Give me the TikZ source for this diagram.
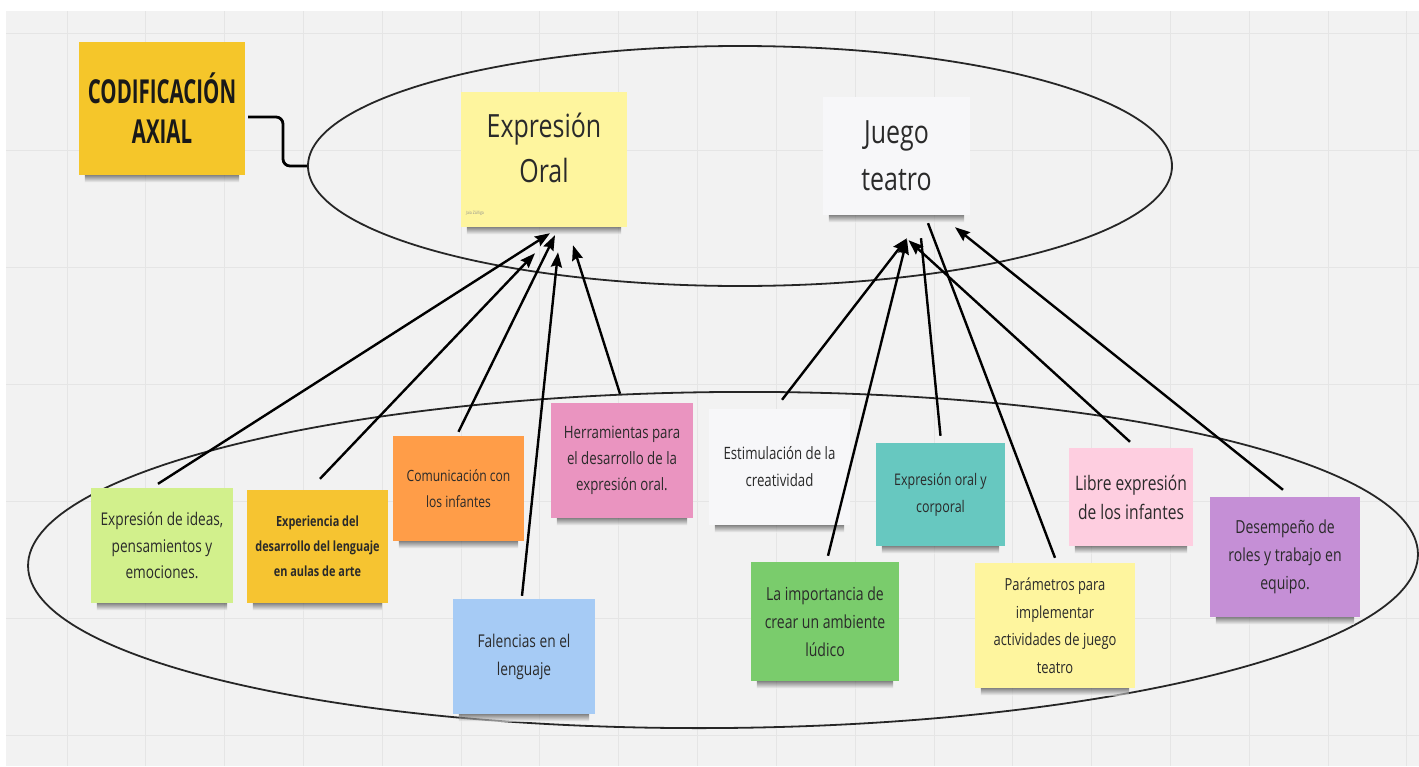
\documentclass[tikz,border=0pt]{standalone}
\usepackage{fontspec}
\setmainfont{Open Sans}[FakeStretch=0.78]
\newfontfamily\titlefont{Open Sans}[FakeStretch=0.62]
\usetikzlibrary{shapes.geometric,arrows.meta,calc}
\definecolor{bgc}{HTML}{F2F2F2}
\definecolor{gridc}{HTML}{E5E5E5}
\definecolor{cgold}{HTML}{F5C62A}
\definecolor{cpaley}{HTML}{FEF59E}
\definecolor{cwhite}{HTML}{F7F7F9}
\definecolor{clime}{HTML}{D2F08C}
\definecolor{cgold2}{HTML}{F6C431}
\definecolor{corange}{HTML}{FF9D48}
\definecolor{cpink}{HTML}{EA94C0}
\definecolor{cblue}{HTML}{A6CBF5}
\definecolor{cteal}{HTML}{67C8C0}
\definecolor{clpink}{HTML}{FECEE0}
\definecolor{cpurple}{HTML}{C58FD6}
\definecolor{cgreen}{HTML}{7ACC6C}
\definecolor{ctext}{HTML}{2A2A2A}
\begin{document}
\begin{tikzpicture}[x=1pt,y=-1pt,
  note/.style={rectangle, inner sep=0pt, align=center, text=ctext},
  fs/.style 2 args={font=\fontsize{#1}{#2}\selectfont},
  link/.style={line width=2.4pt, black},
  arr/.style={link, -{Stealth[length=15pt,width=11pt,inset=2pt]}},
  oval/.style={ellipse, draw=black!85, line width=1.8pt, inner sep=0pt}
]
\useasboundingbox (0,0) rectangle (1419,766);
\fill[white] (0,0) rectangle (1419,766);
\fill[bgc] (6,11) rectangle (1419,766);
\foreach \i in {0,...,17} \draw[gridc, line width=1pt] ({67+78.82*\i},11) -- ({67+78.82*\i},766);
\foreach \j in {0,...,6} \draw[gridc, line width=1pt] (6,{33+117*\j}) -- (1419,{33+117*\j});

% ovals
\node[oval, minimum width=864pt, minimum height=240pt] (up) at (740,166) {};
\node[oval, minimum width=1390pt, minimum height=336pt, rotate=0.5] (low) at (723,560) {};

% notes
\node[note, fill=cgold, minimum width=166pt, minimum height=133pt, text=black!90,
  font=\titlefont\bfseries\fontsize{33}{40}\selectfont] (title) at (162,108.5) {CODIFICACIÓN\\AXIAL};
\node[note, fill=cpaley, minimum width=166pt, minimum height=135pt] (eo) at (544,159.5) {};
\node[note, fs={32}{45}] (eot) at (544,148) {Expresión\\Oral};
\node[anchor=west, inner sep=0pt, text=black!45, font=\fontsize{4.5}{5}\selectfont] (auth) at (466,213) {Jaia Zúñiga};
\node[note, fill=cwhite, minimum width=147pt, minimum height=118pt, fs={32}{47}] (jt) at (896.5,156) {Juego\\teatro};

\node[note, fill=clime, minimum width=142pt, minimum height=115pt, fs={17.5}{26.5}] (n1) at (162,545.5) {Expresión de ideas,\\pensamientos y\\emociones.};
\node[note, fill=cgold2, minimum width=141pt, minimum height=113pt, font=\bfseries\fontsize{14}{25}\selectfont] (n2) at (317.5,546.5) {Experiencia del\\desarrollo del lenguaje\\en aulas de arte};
\node[note, fill=corange, minimum width=131pt, minimum height=105pt, fs={15.5}{26}] (n3) at (458.5,488.5) {Comunicación con\\los infantes};
\node[note, fill=cpink, minimum width=142pt, minimum height=115pt, fs={17}{26}] (n4) at (622,460.5) {Herramientas para\\el desarrollo de la\\expresión oral.};
\node[note, fill=cblue, minimum width=142pt, minimum height=115pt, fs={17.6}{28}] (n5) at (524,656.5) {Falencias en el\\lenguaje};
\node[note, fill=cwhite, minimum width=141pt, minimum height=116pt, fs={17}{27}] (n6) at (779.5,467) {Estimulación de la\\creatividad};
\node[note, fill=cteal, minimum width=129pt, minimum height=103pt, fs={16}{27}] (n7) at (940.5,494.5) {Expresión oral y\\corporal};
\node[note, fill=clpink, minimum width=124pt, minimum height=98pt, fs={20}{29}] (n8) at (1131,497) {Libre expresión\\de los infantes};
\node[note, fill=cpurple, minimum width=150pt, minimum height=120pt, fs={18}{28}] (n9) at (1285,557) {Desempeño de\\roles y trabajo en\\equipo.};
\node[note, fill=cgreen, minimum width=148pt, minimum height=119pt, fs={18}{28}] (n10) at (825,621.5) {La importancia de\\crear un ambiente\\lúdico};
\node[note, fill=cpaley, minimum width=160pt, minimum height=125pt, fs={16.6}{27.5}] (n11) at (1055,625.5) {Parámetros para\\implementar\\actividades de juego\\teatro};

% shadows
\foreach \n in {title,eo,jt,n1,n2,n3,n4,n5,n6,n7,n8,n9,n10,n11}{
  \shade[top color=black!75, bottom color=bgc, opacity=0.6]
    ($(\n.south west)+(6,0)$) rectangle ($(\n.south east)+(-6,7)$);
}

% title connector
\draw[line width=2.8pt, rounded corners=7pt] ($(title.east)+(3,8.5)$) -- (283,117) -- (283,166) -- (up.west);

% arrows to Expresión Oral
\draw[arr] ($(n1.north)+(-4,-4)$) -- ($(eo.south)+(6,6)$);
\draw[arr] ($(n2.north)+(2.5,-11)$) -- ($(eo.south)+(-9,26)$);
\draw[arr] ($(n3.north)+(0,-4)$) -- ($(eo.south)+(11,8)$);
\draw[arr] ($(n5.north)+(-2,-3)$) -- ($(eo.south)+(14,25)$);
\draw[arr] ($(n4.north)+(-2,-9)$) -- ($(eo.south)+(29,18)$);

% arrows to Juego teatro
\draw[arr] ($(n6.north)+(2.5,-9)$) -- ($(jt.south)+(10.5,23)$);
\draw[arr] ($(n10.north)+(3,-6)$) -- ($(jt.south)+(10.5,24)$);
\draw[link] ($(n7.north)+(0,-7)$) -- ($(jt.south)+(24.5,23)$);
\draw[link] ($(n11.north)+(0,-5)$) -- ($(jt.south)+(31.5,8)$);
\draw[arr] ($(n8.north)+(-1,-6)$) -- ($(jt.south)+(12,25)$);
\draw[arr] ($(n9.north)+(-2,-7)$) -- ($(jt.south)+(58.5,12)$);
\end{tikzpicture}
\end{document}
